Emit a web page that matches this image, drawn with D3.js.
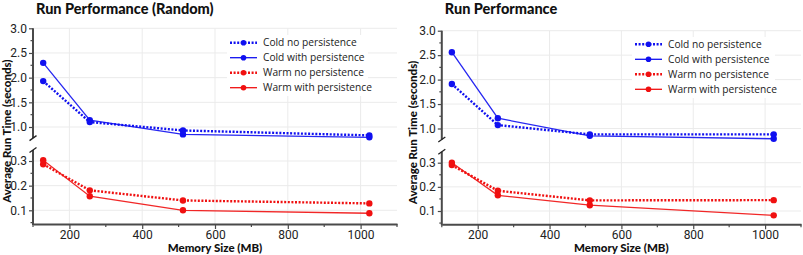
<!DOCTYPE html>
<html>
<head>
<meta charset="utf-8">
<script src="https://cdn.jsdelivr.net/npm/d3@7"></script>
<style>
  html, body { margin: 0; padding: 0; background: #fff; }
  svg { display: block; }
  text { font-family: "Open Sans", "DejaVu Sans", sans-serif; }
</style>
</head>
<body>
<svg id="chart" width="803" height="255"></svg>
<script>
// ---------------- DATA ----------------
const memorySizes = [128, 256, 512, 1024];
const seriesNames = ["Cold no persistence", "Cold with persistence", "Warm no persistence", "Warm with persistence"];
const xTicks = [200, 400, 600, 800, 1000];
const xMinorTicks = [100, 300, 500, 700, 900, 1100];
const yUpperTicks = [1.0, 1.5, 2.0, 2.5, 3.0];
const yUpperMinor = [1.25, 1.75, 2.25, 2.75];
const yLowerTicks = [0.1, 0.2, 0.3];
const yLowerMinor = [0.05, 0.15, 0.25];

// Chart 1: Run Performance (Random)
const randomColdNo   = [1.93, 1.10, 0.93, 0.83];
const randomColdWith = [2.30, 1.14, 0.85, 0.79];
const randomWarmNo   = [0.287, 0.181, 0.140, 0.128];
const randomWarmWith = [0.303, 0.157, 0.100, 0.088];

// Chart 2: Run Performance
const seqColdNo   = [1.91, 1.07, 0.88, 0.88];
const seqColdWith = [2.56, 1.21, 0.85, 0.79];
const seqWarmNo   = [0.290, 0.184, 0.144, 0.145];
const seqWarmWith = [0.300, 0.165, 0.124, 0.082];

const charts = [
  { title: "Run Performance (Random)", series: [randomColdNo, randomColdWith, randomWarmNo, randomWarmWith],
    x0: 33, x1: 397, y3: 28.3, y1: 127, y03: 161, y01: 210.3, yBottom: 224,
    yTitleX: 10.5, legendX: 230, legendY: 42.7, legendBox: [227, 35, 141, 61] },
  { title: "Run Performance", series: [seqColdNo, seqColdWith, seqWarmNo, seqWarmWith],
    x0: 441.8, x1: 801, y3: 30.7, y1: 128.5, y03: 162.7, y01: 211, yBottom: 224.3,
    yTitleX: 417, legendX: 635, legendY: 44.3, legendBox: [632, 37, 143, 61] }
];

const colors = ["#1010f0", "#1010f0", "#f01010", "#f01010"];
const dotted = [true, false, true, false];
const upperSeries = [true, true, false, false];

const svg = d3.select("#chart");
const axisColor = "#4a4a4a";
const gridColor = "#ebebeb";
const tickFont = "'Liberation Sans Narrow', 'Roboto', sans-serif";
const boldFont = "Lato, 'Open Sans', sans-serif";

charts.forEach(c => {
  const g = svg.append("g");
  const x = d3.scaleLinear().domain([100, 1100]).range([c.x0, c.x1]);
  const yU = d3.scaleLinear().domain([1.0, 3.0]).range([c.y1, c.y3]);
  const yL = d3.scaleLinear().domain([0.1, 0.3]).range([c.y01, c.y03]);
  const upperBottomVal = 0.775, lowerTopVal = 0.345;
  const lowerBottomVal = yL.invert(c.yBottom);

  // gridlines
  g.append("g").selectAll("line").data(xTicks).join("line")
    .attr("x1", d => x(d)).attr("x2", d => x(d))
    .attr("y1", c.y3).attr("y2", c.yBottom)
    .attr("stroke", gridColor).attr("stroke-width", 1);
  g.append("g").selectAll("line").data(yUpperTicks).join("line")
    .attr("x1", c.x0).attr("x2", c.x1)
    .attr("y1", d => yU(d)).attr("y2", d => yU(d))
    .attr("stroke", gridColor).attr("stroke-width", 1);
  g.append("g").selectAll("line").data(yLowerTicks).join("line")
    .attr("x1", c.x0).attr("x2", c.x1)
    .attr("y1", d => yL(d)).attr("y2", d => yL(d))
    .attr("stroke", gridColor).attr("stroke-width", 1);

  // series
  c.series.forEach((vals, i) => {
    const y = upperSeries[i] ? yU : yL;
    const pts = memorySizes.map((m, j) => [x(m), y(vals[j])]);
    g.append("path")
      .attr("d", d3.line()(pts))
      .attr("fill", "none")
      .attr("stroke", colors[i])
      .attr("stroke-width", dotted[i] ? 2.4 : 1.3)
      .attr("stroke-dasharray", dotted[i] ? "2,1.6" : null)
      .attr("opacity", dotted[i] ? 1 : 0.9);
    g.append("g").selectAll("circle").data(pts).join("circle")
      .attr("cx", d => d[0]).attr("cy", d => d[1]).attr("r", 3.2)
      .attr("fill", colors[i]);
  });

  // x axis
  const xAxis = g.append("g").attr("transform", `translate(0,${c.yBottom})`)
    .call(d3.axisBottom(x).tickValues(xTicks).tickFormat(d3.format("d")).tickSize(5).tickSizeOuter(0).tickPadding(1));
  xAxis.select(".domain").attr("stroke", axisColor).attr("stroke-width", 2);
  xAxis.selectAll(".tick line").attr("stroke", axisColor).attr("stroke-width", 1.2);
  xAxis.selectAll(".tick text").attr("font-size", 12).attr("fill", "#222")
    .style("font-family", tickFont);
  g.append("g").selectAll("line").data(xMinorTicks).join("line")
    .attr("x1", d => x(d)).attr("x2", d => x(d))
    .attr("y1", c.yBottom).attr("y2", c.yBottom + 3)
    .attr("stroke", axisColor).attr("stroke-width", 1.2);

  // y axis upper / lower
  const yAxisU = g.append("g").attr("transform", `translate(${c.x0},0)`)
    .call(d3.axisLeft(yU).tickValues(yUpperTicks).tickFormat(d3.format(".1f")).tickSize(4).tickSizeOuter(0).tickPadding(2));
  yAxisU.select(".domain").remove();
  g.append("line").attr("x1", c.x0).attr("x2", c.x0)
    .attr("y1", yU(3.0)).attr("y2", yU(upperBottomVal))
    .attr("stroke", axisColor).attr("stroke-width", 2);
  const yAxisL = g.append("g").attr("transform", `translate(${c.x0},0)`)
    .call(d3.axisLeft(yL).tickValues(yLowerTicks).tickFormat(d3.format(".1f")).tickSize(4).tickSizeOuter(0).tickPadding(2));
  yAxisL.select(".domain").remove();
  g.append("line").attr("x1", c.x0).attr("x2", c.x0)
    .attr("y1", yL(lowerTopVal)).attr("y2", c.yBottom + 1)
    .attr("stroke", axisColor).attr("stroke-width", 2);
  [yAxisU, yAxisL].forEach(a => {
    a.selectAll(".tick line").attr("stroke", axisColor).attr("stroke-width", 1.2);
    a.selectAll(".tick text").attr("font-size", 12).attr("fill", "#222")
      .style("font-family", tickFont);
  });
  g.append("g").selectAll("line").data(yUpperMinor).join("line")
    .attr("x1", c.x0 - 2.5).attr("x2", c.x0)
    .attr("y1", d => yU(d)).attr("y2", d => yU(d))
    .attr("stroke", axisColor).attr("stroke-width", 1.2);
  g.append("g").selectAll("line").data(yLowerMinor.filter(v => v > lowerBottomVal)).join("line")
    .attr("x1", c.x0 - 2.5).attr("x2", c.x0)
    .attr("y1", d => yL(d)).attr("y2", d => yL(d))
    .attr("stroke", axisColor).attr("stroke-width", 1.2);

  // break marks
  const yb1 = yU(upperBottomVal), yb2 = yL(lowerTopVal);
  [yb1, yb2].forEach(yy => {
    g.append("line").attr("x1", c.x0 - 3.5).attr("x2", c.x0 + 3.5)
      .attr("y1", yy + 2.5).attr("y2", yy - 2.5)
      .attr("stroke", "#222").attr("stroke-width", 1.3);
  });

  // legend
  const lb = c.legendBox;
  g.append("rect").attr("x", lb[0]).attr("y", lb[1]).attr("width", lb[2]).attr("height", lb[3]).attr("fill", "#fff");
  seriesNames.forEach((name, i) => {
    const ly = c.legendY + i * 15;
    g.append("line").attr("x1", c.legendX).attr("x2", c.legendX + 27)
      .attr("y1", ly).attr("y2", ly)
      .attr("stroke", colors[i])
      .attr("stroke-width", dotted[i] ? 2.4 : 1.3)
      .attr("stroke-dasharray", dotted[i] ? "2,1.6" : null);
    g.append("circle").attr("cx", c.legendX + 13.5).attr("cy", ly).attr("r", 2.8).attr("fill", colors[i]);
    g.append("text").attr("x", c.legendX + 33).attr("y", ly).attr("dy", "0.35em")
      .attr("font-size", 10.2).attr("fill", "#222").text(name);
  });

  // titles
  g.append("text").attr("x", c.x0 + 3).attr("y", 14)
    .attr("font-size", 14.5).attr("font-weight", 900)
    .style("font-family", boldFont)
    .attr("fill", "#111").text(c.title);
  g.append("text").attr("x", (c.x0 + c.x1) / 2).attr("y", 252)
    .attr("text-anchor", "middle").attr("font-size", 11.5).attr("font-weight", 900)
    .style("font-family", boldFont)
    .attr("fill", "#111").text("Memory Size (MB)");
  g.append("text")
    .attr("transform", `translate(${c.yTitleX},${(c.y3 + c.yBottom) / 2 + 5}) rotate(-90)`)
    .attr("text-anchor", "middle").attr("font-size", 11.5).attr("font-weight", 900)
    .style("font-family", boldFont)
    .attr("fill", "#111").text("Average Run Time (seconds)");
});
</script>
</body>
</html>
